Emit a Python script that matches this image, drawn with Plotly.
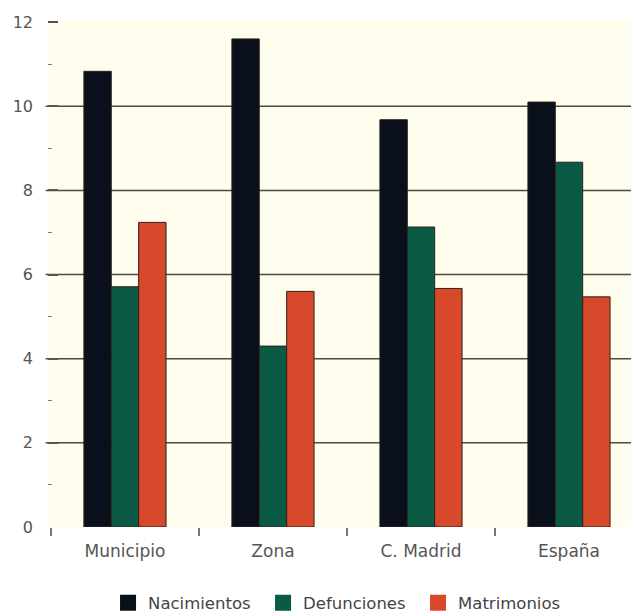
import plotly.graph_objects as go

categories = ["Municipio", "Zona", "C. Madrid", "España"]
nacimientos = [10.83, 11.6, 9.68, 10.1]
defunciones = [5.71, 4.3, 7.13, 8.67]
matrimonios = [7.24, 5.6, 5.67, 5.47]
series_names = ["Nacimientos", "Defunciones", "Matrimonios"]
series_colors = ["#0a0f1c", "#0b5a45", "#d8482a"]
y_tick_values = [0, 2, 4, 6, 8, 10, 12]
grid_values = [2, 4, 6, 8, 10]

fig = go.Figure()
for name, vals, col in zip(series_names, [nacimientos, defunciones, matrimonios], series_colors):
    fig.add_trace(go.Bar(
        x=categories, y=vals, name=name, marker_color=col,
        marker_line=dict(color="#2a2218", width=1), showlegend=False,
    ))
for name, col in zip(series_names, series_colors):
    fig.add_trace(go.Scatter(
        x=[None], y=[None], mode="markers", name=name,
        marker=dict(symbol="square", size=16, color=col), showlegend=True,
    ))

shapes = []
for g in grid_values:
    shapes.append(dict(type="line", xref="paper", yref="y", x0=-0.004, x1=1, y0=g, y1=g,
                       line=dict(color="#4d4b3c", width=1.5), layer="below"))

fig.update_layout(
    width=631, height=607,
    margin=dict(l=40, r=0, t=12, b=88, autoexpand=False),
    paper_bgcolor="#ffffff",
    plot_bgcolor="#fffdee",
    barmode="group",
    bargap=0.445,
    bargroupgap=0,
    font=dict(family="DejaVu Sans, sans-serif", color="#555555", size=16),
    shapes=shapes,
    showlegend=True,
    legend=dict(orientation="h", x=0.1016, xanchor="left", y=-0.150, yanchor="middle",
                font=dict(size=16.5, color="#444444"), bgcolor="rgba(0,0,0,0)",
                entrywidth=110, entrywidthmode="pixels", itemsizing="trace"),
    xaxis=dict(
        type="category", range=[-0.52, 3.473], tickson="boundaries",
        ticks="outside", ticklen=8, tickwidth=1.5, tickcolor="#777777",
        showgrid=False, showline=False, zeroline=False, automargin=False,
        tickfont=dict(size=17, color="#555555"), ticklabelstandoff=12,
    ),
    yaxis=dict(
        range=[0, 12.05], tickvals=y_tick_values, automargin=False,
        ticks="inside", ticklen=10, tickwidth=1.5, tickcolor="#555555",
        showgrid=False, showline=False, zeroline=False,
        tickfont=dict(size=16, color="#555555"), ticklabelstandoff=14,
        minor=dict(dtick=1, ticks="inside", ticklen=4, tickwidth=1.2, tickcolor="#777777", showgrid=False),
    ),
)

fig.write_html("out.html")
